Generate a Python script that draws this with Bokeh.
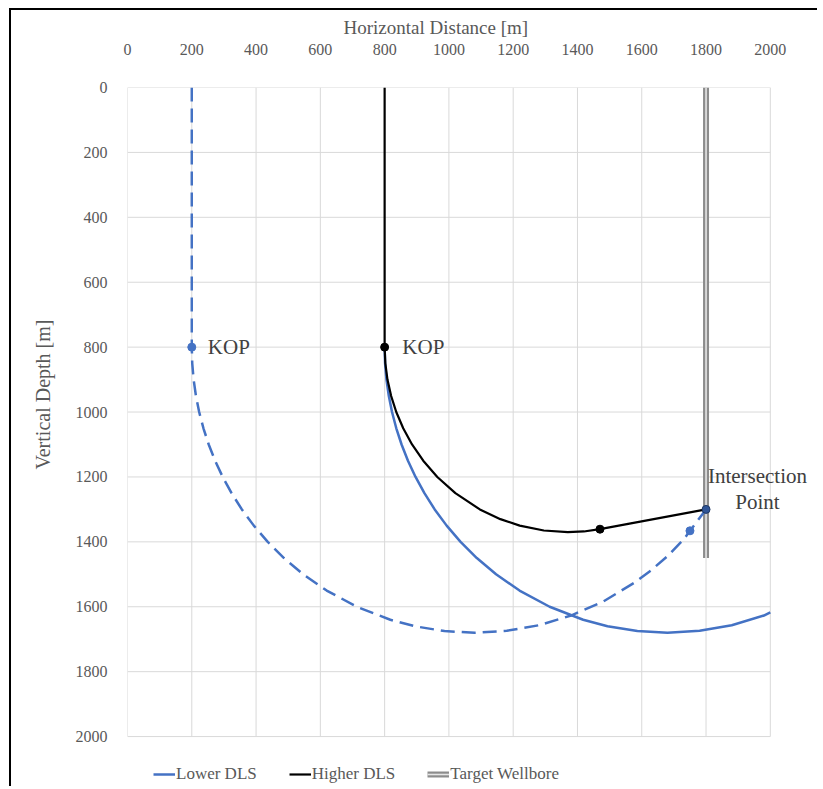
from bokeh.plotting import figure
from bokeh.models import Range1d, FixedTicker, Legend, LegendItem, Label, Title
from bokeh.embed import file_html
from bokeh.resources import INLINE

# ---- data (horizontal distance, vertical depth) ----
lower_dashed_x = [200, 200, 201.4, 205.7, 212.9, 223, 236.3, 252.7, 272.6, 296.2, 323.8, 355.8, 393,
                  436.3, 486.8, 546.7, 619.7, 713.4, 817.7, 893.5, 986.3, 1080, 1180, 1280, 1380,
                  1480, 1580, 1630, 1680, 1730, 1750, 1800]
lower_dashed_y = [0, 800, 850, 900, 950, 1000, 1050, 1100, 1150, 1200, 1250, 1300, 1350,
                  1400, 1450, 1500, 1550, 1600, 1640, 1660, 1675, 1680, 1674, 1657, 1627,
                  1584, 1524, 1487, 1444, 1393, 1366, 1300]

lower_solid_x = [800, 801.4, 805.7, 812.9, 823, 836.3, 852.7, 872.6, 896.2, 923.8, 955.8, 993,
                 1036.3, 1086.8, 1146.7, 1219.7, 1313.4, 1417.7, 1493.5, 1586.3, 1680, 1780,
                 1880, 1980, 2000]
lower_solid_y = [800, 850, 900, 950, 1000, 1050, 1100, 1150, 1200, 1250, 1300, 1350,
                 1400, 1450, 1500, 1550, 1600, 1640, 1660, 1675, 1680, 1674,
                 1657, 1627, 1617]

higher_x = [800, 800, 802.2, 808.8, 820.1, 836.2, 857.8, 885.3, 920.1, 963.9, 1020.1, 1096.3,
            1160.2, 1220.3, 1295.3, 1370, 1420, 1470, 1800]
higher_y = [0, 800, 850, 900, 950, 1000, 1050, 1100, 1150, 1200, 1250, 1300,
            1330, 1350, 1365, 1370, 1368, 1361, 1300]

target_x = [1800, 1800]
target_y = [0, 1450]

lower_pts_x = [200, 1750]
lower_pts_y = [800, 1366]
higher_pts_x = [800, 1470]
higher_pts_y = [800, 1361]
intersection_x = [1800]
intersection_y = [1300]

x_ticks = [0, 200, 400, 600, 800, 1000, 1200, 1400, 1600, 1800, 2000]
y_ticks = [0, 200, 400, 600, 800, 1000, 1200, 1400, 1600, 1800, 2000]

BLUE = "#4472C4"
GRAY_TXT = "#595959"
FONT = "Liberation Serif"

X_MAX = x_ticks[-1]
Y_MAX = y_ticks[-1]

p = figure(width=808, height=778, output_backend="svg", toolbar_location=None,
           x_range=Range1d(0, 2153), y_range=Range1d(2160, 0),
           x_axis_location="above",
           min_border_left=116, min_border_right=0, min_border_top=77, min_border_bottom=0)
p.styles = {"margin-left": "9px", "margin-top": "8px",
            "border-left": "2px solid black", "border-top": "2px solid black"}
p.outline_line_color = None
p.background_fill_color = "white"
p.border_fill_color = "white"
p.grid.visible = False


def style_axis(ax, ticks):
    ax.ticker = FixedTicker(ticks=ticks)
    ax.axis_line_color = None
    ax.major_tick_line_color = None
    ax.minor_tick_line_color = None
    ax.major_label_text_font = FONT
    ax.major_label_text_font_size = "16px"
    ax.major_label_text_color = GRAY_TXT


xa = p.xaxis[0]
ya = p.yaxis[0]
style_axis(xa, x_ticks)
style_axis(ya, y_ticks)
xa.bounds = (0, X_MAX)
ya.bounds = (0, Y_MAX)
xa.major_label_standoff = 27
ya.major_label_standoff = 14

# axis titles as titles (placed like the reference)
p.title.text = "Horizontal Distance [m]"
p.title.align = "left"
p.title.offset = 216
p.title.text_font = FONT
p.title.text_font_size = "19px"
p.title.text_font_style = "normal"
p.title.text_color = GRAY_TXT
p.title.standoff = 6

ytitle = Title(text="Vertical Depth [m]", align="left", offset=319, text_font=FONT,
               text_font_size="20px", text_font_style="normal", text_color=GRAY_TXT, standoff=37)
p.add_layout(ytitle, "left")

# gridlines from the tick lists
p.segment(x0=x_ticks, y0=[0] * len(x_ticks), x1=x_ticks, y1=[Y_MAX] * len(x_ticks),
          line_color="#d9d9d9", line_width=1)
p.segment(x0=[0] * len(y_ticks), y0=y_ticks, x1=[X_MAX] * len(y_ticks), y1=y_ticks,
          line_color="#d9d9d9", line_width=1)

# target wellbore (double line)
t_outer = p.line(target_x, target_y, line_color="#8c8c8c", line_width=6)
t_inner = p.line(target_x, target_y, line_color="#e6e6e6", line_width=1.6)

# lower DLS
l_dash = p.line(lower_dashed_x, lower_dashed_y, line_color=BLUE, line_width=2.5, line_dash="14 7")
l_solid = p.line(lower_solid_x, lower_solid_y, line_color=BLUE, line_width=2.5)

# higher DLS
h_line = p.line(higher_x, higher_y, line_color="black", line_width=2.2)

p.scatter(lower_pts_x, lower_pts_y, size=8, fill_color=BLUE, line_color=BLUE)
p.scatter(higher_pts_x, higher_pts_y, size=8, fill_color="black", line_color="black")
p.scatter(intersection_x, intersection_y, size=8, fill_color="#2f5597", line_color="#1f3864")

for (lx, ly, txt) in ((250, 800, "KOP"), (855, 800, "KOP")):
    p.add_layout(Label(x=lx, y=ly, text=txt, text_font=FONT, text_font_size="21px",
                       text_color="#404040", text_baseline="middle", text_align="left"))
p.add_layout(Label(x=1960, y=1198, text="Intersection", text_font=FONT, text_font_size="21px",
                   text_color="#404040", text_baseline="middle", text_align="center"))
p.add_layout(Label(x=1960, y=1278, text="Point", text_font=FONT, text_font_size="21px",
                   text_color="#404040", text_baseline="middle", text_align="center"))

legend = Legend(items=[LegendItem(label="Lower DLS", renderers=[l_solid]),
                       LegendItem(label="Higher DLS", renderers=[h_line]),
                       LegendItem(label="Target Wellbore", renderers=[t_outer, t_inner])],
                orientation="horizontal", location=(26, 4),
                label_text_font=FONT, label_text_font_size="17px", label_text_color=GRAY_TXT,
                border_line_color=None, background_fill_alpha=0,
                glyph_width=22, label_standoff=1, spacing=32, padding=4, margin=0)
p.add_layout(legend, "center")

open("out.html", "w").write(file_html(p, INLINE))
